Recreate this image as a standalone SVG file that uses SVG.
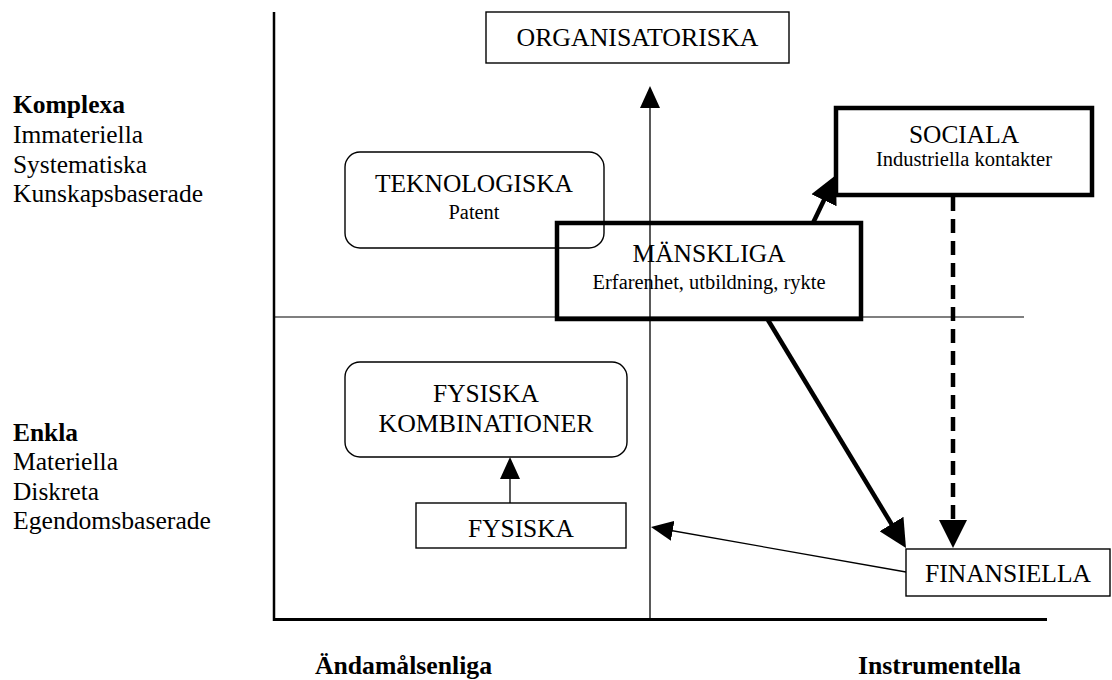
<svg xmlns="http://www.w3.org/2000/svg" width="1112" height="680" viewBox="0 0 1112 680">
<style>
text{font-family:"Liberation Serif","Times New Roman",serif;fill:#000}
.m{font-size:25.5px;text-anchor:middle}
.s{font-size:20.5px;text-anchor:middle}
.l{font-size:25.5px}
.b{font-weight:bold}
.box{fill:#fff;stroke:#000;stroke-width:1.4}
.thick{fill:#fff;stroke:#000;stroke-width:4.5}
.ax{stroke:#000;fill:none}
</style>
<defs>
<marker id="hk" viewBox="0 0 28 28" refX="18" refY="14" markerWidth="28" markerHeight="28" markerUnits="userSpaceOnUse" orient="auto"><path d="M0,0 L28,14 L0,28 z" fill="#000"/></marker>
<marker id="hn" viewBox="0 0 22 20" refX="16" refY="10" markerWidth="22" markerHeight="20" markerUnits="userSpaceOnUse" orient="auto"><path d="M0,0 L22,10 L0,20 z" fill="#000"/></marker>
</defs>
<g id="axes">
<line class="ax" x1="274" y1="12" x2="274" y2="621" stroke-width="2.5"/>
<line class="ax" x1="273" y1="619.5" x2="1047" y2="619.5" stroke-width="3"/>
<line class="ax" x1="274" y1="317" x2="1024" y2="317" stroke-width="1.2"/>
</g>
<g id="labels">
<text class="l b" x="13" y="113" textLength="112" lengthAdjust="spacingAndGlyphs">Komplexa</text>
<text class="l" x="13" y="143" textLength="130" lengthAdjust="spacingAndGlyphs">Immateriella</text>
<text class="l" x="13" y="173" textLength="134" lengthAdjust="spacingAndGlyphs">Systematiska</text>
<text class="l" x="13" y="202" textLength="190" lengthAdjust="spacingAndGlyphs">Kunskapsbaserade</text>
<text class="l b" x="13" y="441" textLength="65" lengthAdjust="spacingAndGlyphs">Enkla</text>
<text class="l" x="13" y="470" textLength="105" lengthAdjust="spacingAndGlyphs">Materiella</text>
<text class="l" x="13" y="500" textLength="86" lengthAdjust="spacingAndGlyphs">Diskreta</text>
<text class="l" x="13" y="529" textLength="198" lengthAdjust="spacingAndGlyphs">Egendomsbaserade</text>
<text class="l b" x="315" y="674" textLength="177" lengthAdjust="spacingAndGlyphs">Ändamålsenliga</text>
<text class="l b" x="858" y="674" textLength="163" lengthAdjust="spacingAndGlyphs">Instrumentella</text>
</g>
<g id="connectors">
<line class="ax" x1="650" y1="620" x2="650" y2="92" stroke-width="1.3" marker-end="url(#hn)"/>
<line class="ax" x1="510" y1="503" x2="510" y2="463" stroke-width="1.3" marker-end="url(#hn)"/>
<line class="ax" x1="906" y1="572" x2="656.9" y2="528" stroke-width="1.3" marker-end="url(#hn)"/>
<line class="ax" x1="813" y1="223" x2="831.7" y2="184" stroke-width="4.5" marker-end="url(#hk)"/>
<line class="ax" x1="768" y1="320" x2="900.8" y2="539.4" stroke-width="4.5" marker-end="url(#hk)"/>
<line class="ax" x1="953" y1="197" x2="953" y2="538" stroke-width="4.5" stroke-dasharray="14 8" marker-end="url(#hk)"/>
</g>
<g id="organisatoriska">
<rect class="box" x="486" y="12" width="303" height="51"/>
<text class="m" x="637.5" y="46" textLength="242" lengthAdjust="spacingAndGlyphs">ORGANISATORISKA</text>
</g>
<g id="teknologiska">
<rect class="box" x="345" y="152" width="259" height="96" rx="15"/>
<text class="m" x="474" y="192" textLength="198" lengthAdjust="spacingAndGlyphs">TEKNOLOGISKA</text>
<text class="s" x="474" y="219" textLength="51" lengthAdjust="spacingAndGlyphs">Patent</text>
</g>
<g id="manskliga">
<rect class="thick" x="557" y="223" width="304" height="96" style="fill:none"/>
<text class="m" x="709" y="262" textLength="153" lengthAdjust="spacingAndGlyphs">MÄNSKLIGA</text>
<text class="s" x="709" y="289" textLength="233" lengthAdjust="spacingAndGlyphs">Erfarenhet, utbildning, rykte</text>
</g>
<g id="sociala">
<rect class="thick" x="836" y="108" width="256" height="87"/>
<text class="m" x="964" y="143" textLength="110" lengthAdjust="spacingAndGlyphs">SOCIALA</text>
<text class="s" x="964" y="166" textLength="176" lengthAdjust="spacingAndGlyphs">Industriella kontakter</text>
</g>
<g id="fysiska-kombinationer">
<rect class="box" x="345" y="362" width="282" height="95" rx="15"/>
<text class="m" x="486" y="402" textLength="106" lengthAdjust="spacingAndGlyphs">FYSISKA</text>
<text class="m" x="486" y="432" textLength="215" lengthAdjust="spacingAndGlyphs">KOMBINATIONER</text>
</g>
<g id="fysiska">
<rect class="box" x="416" y="503" width="210" height="45"/>
<text class="m" x="521" y="537" textLength="106" lengthAdjust="spacingAndGlyphs">FYSISKA</text>
</g>
<g id="finansiella">
<rect class="box" x="906" y="549" width="204" height="47"/>
<text class="m" x="1008" y="582" textLength="166" lengthAdjust="spacingAndGlyphs">FINANSIELLA</text>
</g>
</svg>
